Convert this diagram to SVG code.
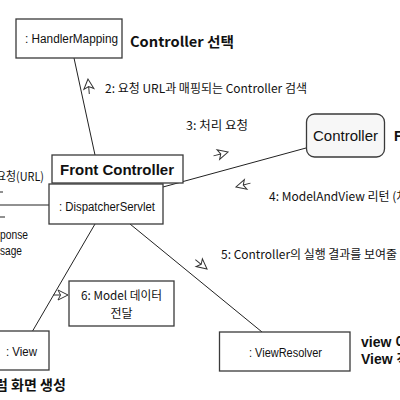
<svg xmlns="http://www.w3.org/2000/svg" width="400" height="400" viewBox="0 0 400 400">
<style>
.box{fill:#fff;stroke:#3a3a3a;stroke-width:1.3}
.ln{stroke:#222;stroke-width:1;fill:none}
.t{font-family:"Liberation Sans","Noto Sans CJK KR",sans-serif;font-size:12px;fill:#111}
.b{font-family:"Liberation Sans","Noto Sans CJK KR",sans-serif;font-size:14px;font-weight:bold;fill:#111}
.k{font-family:"Noto Sans CJK KR","Liberation Sans",sans-serif;font-size:12px;fill:#111}
.kb{font-family:"Noto Sans CJK KR","Liberation Sans",sans-serif;font-size:14px;font-weight:bold;fill:#111}
.ar{fill:#fff;stroke:#333;stroke-width:1}
</style>
<defs>
<path id="arr" d="M0,0 L-10,-5 L-7.5,0 L-10,5 Z M-7.5,0 H-15"/>
</defs>
<rect width="400" height="400" fill="#fff"/>
<g id="connectors">
<line class="ln" x1="74" y1="58" x2="95" y2="155"/>
<line class="ln" x1="163" y1="187" x2="306" y2="148"/>
<line class="ln" x1="0" y1="205" x2="49" y2="205"/>
<line class="ln" x1="0" y1="192" x2="3" y2="192"/>
<line class="ln" x1="0" y1="217" x2="5" y2="217"/>
<line class="ln" x1="95" y1="224" x2="32" y2="332"/>
<line class="ln" x1="130" y1="224" x2="262" y2="332"/>
<use href="#arr" class="ar" transform="translate(88,79) rotate(-95)"/>
<use href="#arr" class="ar" transform="translate(228,152) rotate(-15)"/>
<use href="#arr" class="ar" transform="translate(236,187) rotate(165)"/>
<use href="#arr" class="ar" transform="translate(207,269) rotate(39)"/>
<use href="#arr" class="ar" transform="translate(68,295)"/>
</g>
<g id="handlerMapping">
<rect class="box" x="16" y="19" width="106" height="39"/>
<text class="t" x="25" y="43" textLength="93" lengthAdjust="spacingAndGlyphs">: HandlerMapping</text>
</g>
<text class="kb" x="130" y="47" textLength="104" lengthAdjust="spacingAndGlyphs">Controller 선택</text>
<text class="k" x="105" y="93" textLength="202" lengthAdjust="spacingAndGlyphs">2: 요청 URL과 매핑되는 Controller 검색</text>
<text class="k" x="186" y="130" textLength="62" lengthAdjust="spacingAndGlyphs">3: 처리 요청</text>
<g id="controller">
<rect x="306.5" y="114" width="78" height="43" rx="8" fill="#f7f7f7" stroke="#3a3a3a" stroke-width="1.3"/>
<text x="345.5" y="141" text-anchor="middle" font-family="Liberation Sans, sans-serif" font-size="15" fill="#111" textLength="65" lengthAdjust="spacingAndGlyphs">Controller</text>
</g>
<text class="b" x="394" y="141">F</text>
<text class="k" x="269" y="201">4: ModelAndView 리턴 (처리</text>
<text class="k" x="221" y="259" textLength="176" lengthAdjust="spacingAndGlyphs">5: Controller의 실행 결과를 보여줄</text>
<g id="frontController">
<rect class="box" x="52" y="155" width="131" height="28"/>
<text class="b" x="60" y="175" textLength="114" lengthAdjust="spacingAndGlyphs">Front Controller</text>
</g>
<g id="dispatcherServlet">
<rect class="box" x="49" y="184" width="114" height="40"/>
<text class="t" x="59" y="211" textLength="96" lengthAdjust="spacingAndGlyphs">: DispatcherServlet</text>
</g>
<text class="k" x="-4" y="181" textLength="48" lengthAdjust="spacingAndGlyphs">요청(URL)</text>
<text class="t" x="0" y="239" font-size="11" textLength="28" lengthAdjust="spacingAndGlyphs">ponse</text>
<text class="t" x="0" y="255" font-size="11" textLength="22" lengthAdjust="spacingAndGlyphs">sage</text>
<g id="modelNote">
<rect class="box" x="69" y="281" width="105" height="45"/>
<text class="k" x="121.5" y="300" font-size="11" text-anchor="middle" textLength="81" lengthAdjust="spacingAndGlyphs">6: Model 데이터</text>
<text class="k" x="121.5" y="318" font-size="11" text-anchor="middle">전달</text>
</g>
<g id="view">
<rect class="box" x="-2" y="331" width="51" height="39"/>
<text class="t" x="6" y="356" textLength="31" lengthAdjust="spacingAndGlyphs">: View</text>
</g>
<text class="kb" x="-5" y="390">럼 화면 생성</text>
<g id="viewResolver">
<rect class="box" x="219.5" y="332" width="130.5" height="39"/>
<text class="t" x="249" y="357" textLength="73" lengthAdjust="spacingAndGlyphs">: ViewResolver</text>
</g>
<text class="b" x="361" y="347">view 이</text>
<text class="b" x="361" y="364">View 객</text>
</svg>
